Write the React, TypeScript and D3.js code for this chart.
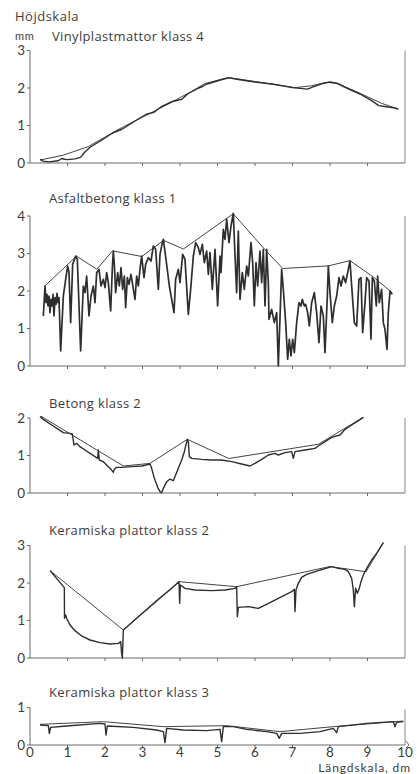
import { useEffect, useRef } from 'react';
import * as d3 from 'd3';

type Pt = [number, number];

// x in dm, y in mm
const titles = [
  'Vinylplastmattor klass 4',
  'Asfaltbetong klass 1',
  'Betong klass 2',
  'Keramiska plattor klass 2',
  'Keramiska plattor klass 3',
];

const yMaxes = [3, 4, 2, 3, 1];
const xTicks = [0, 1, 2, 3, 4, 5, 6, 7, 8, 9, 10];

const profile1: Pt[] = [
  [0.27, 0.1], [0.35, 0.05], [0.5, 0.03], [0.75, 0.06], [0.85, 0.12], [0.92, 0.1], [1.0, 0.09],
  [1.2, 0.11], [1.35, 0.15], [1.45, 0.28], [1.6, 0.42], [1.9, 0.6], [2.2, 0.8], [2.45, 0.9],
  [2.55, 0.96], [2.8, 1.12], [3.1, 1.3], [3.3, 1.35], [3.5, 1.5], [3.8, 1.64], [4.05, 1.7],
  [4.2, 1.84], [4.5, 2.0], [4.6, 2.04], [4.7, 2.1], [4.9, 2.16], [5.1, 2.22], [5.3, 2.27],
  [5.6, 2.22], [6.0, 2.16], [6.5, 2.1], [7.0, 2.01], [7.2, 1.99], [7.4, 1.97], [7.55, 2.03],
  [7.8, 2.12], [8.0, 2.16], [8.2, 2.12], [8.5, 1.97], [8.8, 1.84], [9.1, 1.67], [9.3, 1.53],
  [9.5, 1.5], [9.7, 1.47], [9.82, 1.44],
];
const envelope1: Pt[] = [
  [0.27, 0.08], [0.89, 0.21], [1.56, 0.44], [2.44, 0.94], [3.33, 1.39], [4.22, 1.86],
  [4.67, 2.12], [5.29, 2.28], [7.07, 2.01], [7.51, 2.06], [7.91, 2.15], [8.18, 2.13],
  [8.71, 1.9], [9.38, 1.59], [9.82, 1.44],
];

const profile2: Pt[] = [
  [0.356, 1.333], [0.4, 2.133], [0.427, 1.689], [0.453, 1.911], [0.48, 1.6], [0.507, 1.867],
  [0.533, 1.422], [0.56, 1.778], [0.587, 1.6], [0.613, 1.911], [0.64, 1.333], [0.667, 1.822],
  [0.693, 1.644], [0.72, 1.938], [0.747, 1.689], [0.773, 1.822], [0.818, 0.4], [0.889, 1.867],
  [0.951, 2.311], [1.004, 2.667], [1.04, 2.489], [1.084, 1.156], [1.138, 2.711], [1.218, 2.933],
  [1.262, 2.844], [1.351, 0.4], [1.422, 2.133], [1.467, 1.956], [1.511, 2.4], [1.573, 1.333],
  [1.627, 1.867], [1.689, 2.133], [1.733, 1.689], [1.778, 2.489], [1.84, 2.578], [1.893, 2.133],
  [1.956, 2.311], [2.0, 2.089], [2.044, 2.489], [2.089, 2.222], [2.151, 1.467], [2.196, 2.622],
  [2.222, 3.067], [2.249, 2.711], [2.284, 1.956], [2.338, 2.489], [2.382, 2.133], [2.427, 2.622],
  [2.471, 2.044], [2.516, 2.4], [2.551, 1.556], [2.596, 2.356], [2.64, 2.178], [2.693, 2.444],
  [2.8, 1.778], [2.844, 2.4], [2.889, 2.133], [2.933, 2.578], [2.978, 2.933], [3.04, 2.356],
  [3.084, 2.711], [3.156, 2.889], [3.227, 2.8], [3.289, 3.2], [3.351, 3.111], [3.422, 2.044],
  [3.467, 2.978], [3.529, 3.289], [3.556, 3.378], [3.644, 2.711], [3.716, 2.133], [3.84, 1.422],
  [3.884, 2.311], [3.956, 2.578], [4.0, 2.222], [4.071, 2.978], [4.133, 2.844], [4.222, 1.378],
  [4.284, 2.044], [4.356, 2.933], [4.418, 3.289], [4.489, 3.156], [4.533, 2.978], [4.596, 3.244],
  [4.649, 2.756], [4.711, 3.067], [4.756, 2.444], [4.8, 3.022], [4.862, 2.044], [4.933, 3.111],
  [5.004, 1.6], [5.067, 2.933], [5.093, 2.489], [5.155, 3.644], [5.2, 3.378], [5.244, 3.911],
  [5.307, 3.289], [5.36, 3.733], [5.422, 4.071], [5.467, 2.933], [5.511, 1.956], [5.555, 3.6],
  [5.6, 1.778], [5.662, 2.489], [5.715, 2.044], [5.778, 2.667], [5.822, 2.4], [5.893, 3.289],
  [5.938, 2.756], [5.982, 1.6], [6.027, 2.756], [6.071, 2.133], [6.133, 3.067], [6.178, 2.222],
  [6.222, 3.111], [6.267, 1.6], [6.311, 3.111], [6.355, 2.222], [6.373, 1.244], [6.444, 1.511],
  [6.515, 1.156], [6.578, 1.422], [6.622, 0], [6.711, 2.578], [6.755, 2.044], [6.818, 1.156],
  [6.871, 0.178], [6.915, 0.711], [6.96, 0.267], [7.004, 0.711], [7.049, 0.356], [7.111, 1.156],
  [7.173, 1.689], [7.227, 1.6], [7.262, 1.778], [7.315, 1.6], [7.351, 1.644], [7.404, 1.422],
  [7.449, 1.067], [7.511, 1.689], [7.582, 1.956], [7.644, 1.422], [7.706, 0.622], [7.76, 1.6],
  [7.822, 1.333], [7.866, 0.356], [7.929, 1.867], [7.955, 2.667], [8.0, 1.956], [8.062, 1.156],
  [8.115, 1.6], [8.178, 1.867], [8.24, 2.356], [8.293, 2.133], [8.355, 2.4], [8.417, 2.222],
  [8.471, 2.489], [8.533, 2.8], [8.578, 2.133], [8.649, 1.156], [8.711, 1.067], [8.773, 2.311],
  [8.826, 2.356], [8.871, 0.889], [8.933, 1.689], [8.978, 2.356], [9.04, 2.267], [9.093, 0.711],
  [9.129, 2.356], [9.182, 2.267], [9.235, 1.6], [9.271, 2.4], [9.315, 1.689], [9.377, 2.044],
  [9.422, 1.156], [9.466, 0.978], [9.52, 0.444], [9.555, 1.422], [9.6, 2.0], [9.626, 1.956],
  [9.662, 1.911],
];
const envelope2: Pt[] = [
  [0.4, 2.14], [1.24, 2.93], [1.78, 2.58], [2.2, 3.07], [2.98, 2.92], [3.56, 3.35], [4.09, 3.12],
  [5.42, 4.06], [6.27, 3.1], [6.74, 2.6], [7.96, 2.67], [8.53, 2.81], [9.16, 2.37], [9.64, 1.97],
];

const profile3: Pt[] = [
  [0.267, 2.036], [0.356, 1.964], [0.444, 1.902], [0.578, 1.813], [0.756, 1.698], [0.889, 1.609],
  [1.067, 1.591], [1.129, 1.573], [1.173, 1.28], [1.244, 1.324], [1.333, 1.236], [1.467, 1.147],
  [1.6, 1.058], [1.733, 0.969], [1.804, 0.924], [1.822, 1.147], [1.849, 0.88], [1.956, 0.836],
  [2.089, 0.702], [2.16, 0.631], [2.222, 0.551], [2.249, 0.631], [2.311, 0.684], [2.444, 0.684],
  [2.711, 0.702], [2.978, 0.72], [3.2, 0.773], [3.244, 0.658], [3.316, 0.391], [3.404, 0.151],
  [3.467, 0.036], [3.511, 0.009], [3.556, 0.124], [3.644, 0.302], [3.733, 0.373], [3.822, 0.329],
  [3.884, 0.48], [3.956, 0.658], [4.044, 0.88], [4.116, 1.102], [4.169, 1.324], [4.196, 1.431],
  [4.222, 1.369], [4.249, 0.969], [4.311, 0.924], [4.578, 0.898], [4.844, 0.88], [5.111, 0.88],
  [5.378, 0.836], [5.644, 0.773], [5.867, 0.72], [6.0, 0.791], [6.178, 0.898], [6.356, 1.013],
  [6.533, 1.058], [6.622, 1.013], [6.8, 1.076], [6.978, 1.102], [7.022, 0.924], [7.067, 1.102],
  [7.333, 1.147], [7.6, 1.191], [7.689, 1.253], [7.867, 1.369], [8.044, 1.484], [8.267, 1.547],
  [8.4, 1.698], [8.578, 1.813], [8.756, 1.929], [8.889, 2.018],
];
const envelope3: Pt[] = [
  [0.29, 2.05], [2.49, 0.72], [3.2, 0.79], [4.196, 1.431], [5.3, 0.92], [7.69, 1.3], [8.889, 2.02],
];

const profile4: Pt[] = [
  [0.533, 2.329], [0.916, 1.876], [0.92, 1.058], [0.951, 1.147], [0.978, 1.058], [1.067, 0.88],
  [1.2, 0.729], [1.378, 0.587], [1.6, 0.48], [1.867, 0.409], [2.133, 0.373], [2.356, 0.391],
  [2.418, 0.436], [2.444, 0.124], [2.462, 0], [2.48, 0.48], [2.489, 0.747], [2.889, 1.102],
  [3.422, 1.564], [3.778, 1.858], [3.973, 2.036], [3.991, 1.458], [4.009, 1.947], [4.133, 1.858],
  [4.4, 1.813], [4.844, 1.796], [5.2, 1.813], [5.467, 1.858], [5.511, 1.902], [5.529, 1.102],
  [5.556, 1.351], [5.822, 1.369], [6.089, 1.324], [6.267, 1.413], [6.622, 1.591], [6.978, 1.769],
  [7.049, 1.831], [7.067, 1.236], [7.093, 1.813], [7.156, 1.991], [7.244, 2.151], [7.378, 2.231],
  [7.689, 2.329], [8.044, 2.436], [8.222, 2.391], [8.4, 2.364], [8.489, 2.302], [8.578, 2.124],
  [8.622, 1.813], [8.649, 1.369], [8.684, 1.858], [8.729, 1.724], [8.773, 1.831], [8.827, 2.036],
  [8.889, 2.213], [8.978, 2.391], [9.111, 2.613], [9.244, 2.791], [9.422, 3.076],
];
const envelope4: Pt[] = [
  [0.533, 2.33], [2.489, 0.747], [3.973, 2.036], [5.511, 1.902], [8.0, 2.44], [8.96, 2.3], [9.422, 3.076],
];

const profile5: Pt[] = [
  [0.267, 0.533], [0.489, 0.516], [0.516, 0.311], [0.551, 0.471], [0.978, 0.507], [1.867, 0.578],
  [2.0, 0.56], [2.027, 0.267], [2.062, 0.507], [2.756, 0.471], [3.378, 0.4], [3.556, 0.356],
  [3.6, 0.062], [3.644, 0.444], [4.089, 0.4], [4.711, 0.382], [5.067, 0.418], [5.111, 0.089],
  [5.156, 0.489], [5.422, 0.489], [5.778, 0.418], [6.311, 0.356], [6.578, 0.311], [6.649, 0.178],
  [6.711, 0.311], [7.2, 0.311], [7.733, 0.356], [8.089, 0.444], [8.178, 0.329], [8.222, 0.489],
  [8.978, 0.578], [9.689, 0.622], [9.733, 0.489], [9.778, 0.604], [9.956, 0.622],
];
const envelope5: Pt[] = [
  [0.267, 0.551], [1.956, 0.622], [3.556, 0.489], [5.244, 0.516], [6.667, 0.356], [8.089, 0.489], [9.956, 0.64],
];

const profiles = [profile1, profile2, profile3, profile4, profile5];
const envelopes = [envelope1, envelope2, envelope3, envelope4, envelope5];

// layout: baseline of each panel in px and px per mm
const baselines = [163, 366, 493, 658, 745];
const pxPerMm = 37.5;
const titleOffsets = [122, 163, 85, 123, 48];

const FONT = '"Open Sans", "DejaVu Sans", sans-serif';
const FONT_TIGHT = 'Lato, "Open Sans", sans-serif';
const INK = '#2e2e2e';
const AXIS = '#6a6a6a';
const TEXT = '#3c3c3c';

export default function App() {
  const svgRef = useRef<SVGSVGElement>(null);

  useEffect(() => {
    if (!svgRef.current) return;
    const svg = d3.select(svgRef.current);
    svg.selectAll('*').remove();

    const x = d3.scaleLinear().domain([0, 10]).range([30, 405]);

    svg.append('text')
      .attr('x', 15).attr('y', 21)
      .attr('fill', TEXT).style('font-size', '13px').style('letter-spacing', '0.5px')
      .style('font-family', FONT)
      .text('Höjdskala');
    svg.append('text')
      .attr('x', 15).attr('y', 39.5)
      .attr('fill', TEXT).style('font-size', '11px').style('letter-spacing', '0.6px')
      .style('font-family', FONT_TIGHT)
      .text('mm');

    profiles.forEach((prof, i) => {
      const base = baselines[i];
      const yMax = yMaxes[i];
      const y = d3.scaleLinear().domain([0, yMax]).range([base, base - yMax * pxPerMm]);
      const g = svg.append('g');
      const isLast = i === profiles.length - 1;

      // title
      g.append('text')
        .attr('x', i === 0 ? 52 : 49)
        .attr('y', base - titleOffsets[i])
        .attr('fill', TEXT).style('font-size', '13px').style('letter-spacing', '0.35px')
        .style('font-family', FONT)
        .text(titles[i]);

      // axes
      g.append('line')
        .attr('x1', x(0)).attr('x2', x(0)).attr('y1', y(yMax)).attr('y2', y(0))
        .attr('stroke', AXIS).attr('stroke-width', 1);
      g.append('line')
        .attr('x1', x(10)).attr('x2', x(10)).attr('y1', y(yMax) + (isLast ? 2 : 0)).attr('y2', y(0))
        .attr('stroke', '#8a8a8a').attr('stroke-width', 1);
      g.append('line')
        .attr('x1', x(0)).attr('x2', x(10)).attr('y1', y(0)).attr('y2', y(0))
        .attr('stroke', AXIS).attr('stroke-width', 1);

      // y ticks
      const yt = d3.range(0, yMax + 1);
      g.selectAll('.ytick').data(yt).enter().append('line')
        .attr('x1', x(0) - 3).attr('x2', x(0))
        .attr('y1', d => y(d)).attr('y2', d => y(d))
        .attr('stroke', AXIS);
      g.selectAll('.ylab').data(yt).enter().append('text')
        .attr('x', 25).attr('y', d => y(d)).attr('dy', '0.36em')
        .attr('text-anchor', 'end')
        .attr('fill', TEXT).style('font-size', '13.5px').style('font-family', FONT_TIGHT)
        .text(d => String(d));

      // x ticks
      g.selectAll('.xtick').data(xTicks.slice(1, 10)).enter().append('line')
        .attr('x1', d => x(d)).attr('x2', d => x(d))
        .attr('y1', y(0)).attr('y2', y(0) + 3)
        .attr('stroke', AXIS);

      const line = d3.line<Pt>().x(d => x(d[0])).y(d => y(d[1]));

      g.append('path')
        .attr('d', line(envelopes[i]) || '')
        .attr('fill', 'none').attr('stroke', '#444').attr('stroke-width', 1)
        .attr('stroke-linejoin', 'round');
      g.append('path')
        .attr('d', line(prof) || '')
        .attr('fill', 'none').attr('stroke', INK).attr('stroke-width', i === 1 ? 1.7 : 1.4)
        .attr('stroke-linejoin', 'round');

      if (isLast) {
        // small arrow head at the end of the length scale
        g.append('path')
          .attr('d', `M${x(10) + 1},${base - 4} L${x(10) + 4},${base} L${x(10) + 1},${base + 3}`)
          .attr('fill', 'none').attr('stroke', AXIS).attr('stroke-width', 1);
        g.selectAll('.xlab').data(xTicks).enter().append('text')
          .attr('x', d => x(d)).attr('y', base + 11.5)
          .attr('text-anchor', 'middle')
          .attr('fill', TEXT).style('font-size', '13.5px').style('font-family', FONT_TIGHT)
          .text(d => String(d));
        g.append('text')
          .attr('x', 411).attr('y', 771.5)
          .attr('text-anchor', 'end')
          .attr('fill', TEXT).style('font-size', '12px').style('letter-spacing', '0.9px')
          .style('font-family', FONT_TIGHT)
          .text('Längdskala, dm');
      }
    });
  }, []);

  return (
    <svg
      ref={svgRef}
      width={420}
      height={774}
      style={{ position: 'absolute', left: 0, top: 0, background: '#fff' }}
    />
  );
}
